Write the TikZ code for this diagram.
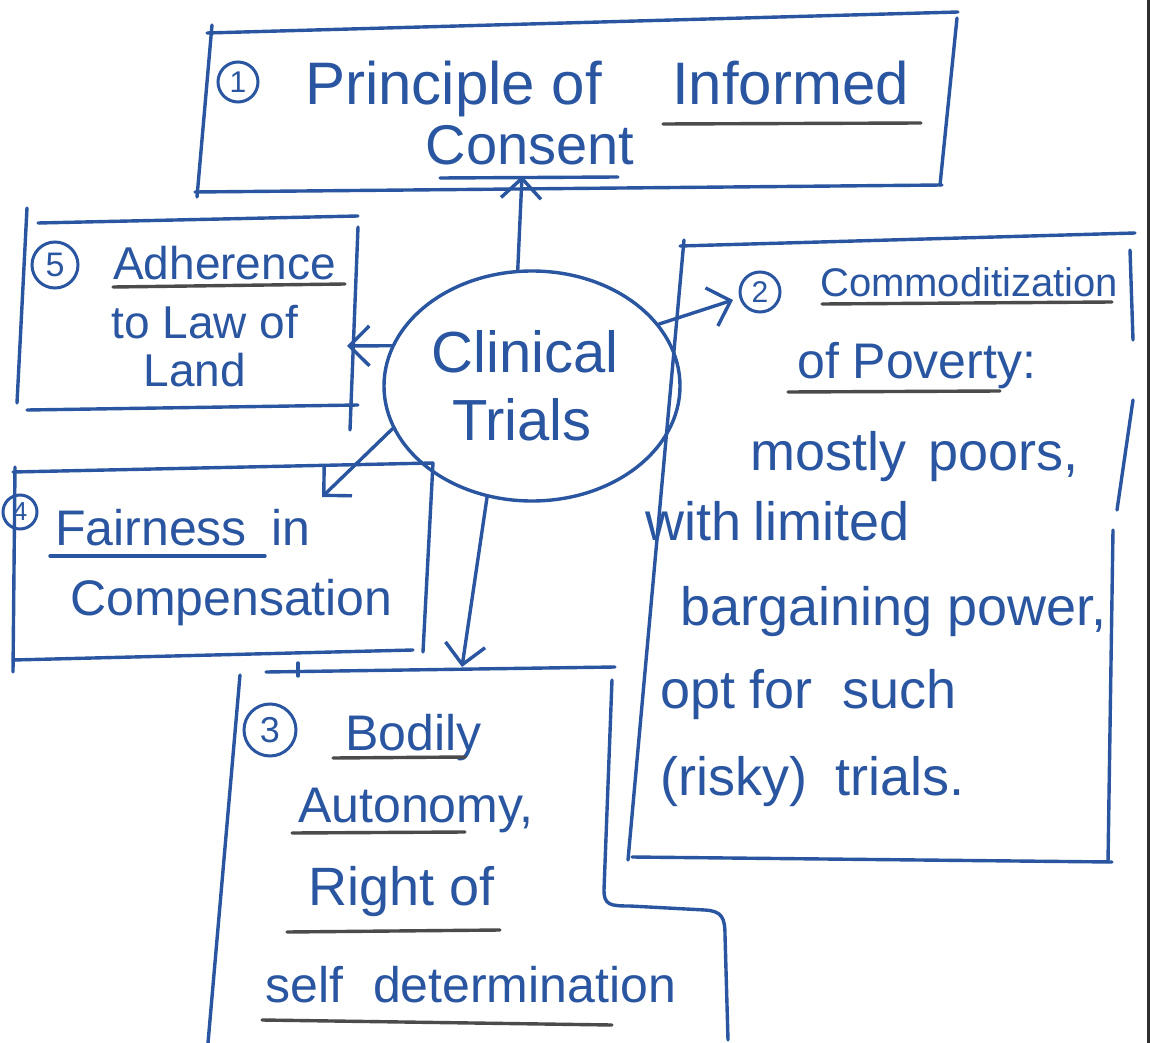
\documentclass[tikz,border=0pt]{standalone}
\usepackage{fontspec}
\setmainfont{Liberation Sans}
\usetikzlibrary{arrows.meta,shapes.geometric}
\definecolor{ink}{HTML}{2A55A0}
\definecolor{pencil}{HTML}{4B4B4B}
\definecolor{pageedge}{HTML}{303030}
\tikzset{
  pen/.style={draw=ink, line width=3.4pt, line cap=round, line join=round},
  uline/.style={draw=pencil, line width=3.4pt, line cap=round},
  bline/.style={draw=ink, line width=3.4pt, line cap=round},
  arr/.style={pen, -{Straight Barb[length=20pt,width=40pt,line width=3.4pt]}},
  txt/.style={text=ink, inner sep=0pt, anchor=base west},
  ctxt/.style={txt, anchor=base},
  num/.style={circle, draw=ink, line width=3pt, inner sep=0pt, text=ink, minimum size=40pt, font=\fontsize{30}{30}\selectfont},
  fa/.style={font=\fontsize{60}{66}\selectfont},
  fb/.style={font=\fontsize{56}{62}\selectfont},
  fc/.style={font=\fontsize{50}{56}\selectfont},
  fd/.style={font=\fontsize{46}{52}\selectfont},
  fe/.style={font=\fontsize{40}{46}\selectfont},
  ff/.style={font=\fontsize{54}{60}\selectfont},
}
\begin{document}
\begin{tikzpicture}[x=1pt,y=-1pt]
\fill[white] (0,0) rectangle (1154,1043);
\useasboundingbox (0,0) rectangle (1154,1043);
% page edge
\draw[pageedge, line width=3pt] (1148,0) -- (1148,1043);

% ---------- Box 1 ----------
\draw[pen] (207,33) -- (958,12);
\draw[pen] (212,25) -- (197,197);
\draw[pen] (957,18) -- (940,185);
\draw[pen] (195,192) -- (942,185);
\node[num] (n1) at (238,82) {1};
\node[txt, fa] (p1a) at (305,105) {Principle of};
\node[txt, fa] (p1b) at (672,105) {Informed};
\node[ctxt, fb] (p1c) at (530,165) {Consent};
\draw[uline] (663,124) -- (921,123);
\draw[bline] (440,178) -- (618,177);

% ---------- Box 5 ----------
\draw[pen] (38,223) -- (358,216);
\draw[pen] (27,208) -- (17,403);
\draw[pen] (358,227) -- (350,430);
\draw[pen] (27,410) -- (358,405);
\node[num, minimum size=46pt, font=\fontsize{34}{34}\selectfont] (n5) at (55,265) {5};
\node[txt, fd] (a5a) at (113,279) {Adherence};
\node[ctxt, fd] (a5b) at (205,338) {to Law of};
\node[ctxt, fd] (a5c) at (195,386) {Land};
\draw[uline] (113,287) -- (345,284);

% ---------- Centre ----------
\node[ellipse, pen, minimum width=296pt, minimum height=230pt, inner sep=0pt] (ct) at (532,386) {};
\node[ctxt, font=\fontsize{58}{64}\selectfont] (ct1) at (525,372) {Clinical};
\node[ctxt, font=\fontsize{58}{64}\selectfont] (ct2) at (522,440) {Trials};

% ---------- Box 2 ----------
\draw[pen] (680,246) -- (1135,233);
\draw[pen] (684,240) -- (628,860);
\draw[pen] (1130,250) -- (1133,340);
\draw[pen] (1133,400) -- (1117,510);
\draw[pen] (1113,530) -- (1108,862);
\draw[pen] (632,857) -- (1112,862);
\node[num] (n2) at (760,292) {2};
\node[txt, fe] (c2a) at (820,296) {Commoditization};
\draw[uline] (822,304) -- (1112,302);
\node[txt, fc] (c2b) at (797,378) {of Poverty:};
\draw[uline] (788,392) -- (1000,391);
\node[txt, ff] (c2c) at (750,470) {mostly\hspace{22pt}poors,};
\node[txt, ff] (c2d) at (645,540) {with\hspace{12pt}limited};
\node[txt, ff] (c2e) at (680,625) {bargaining power,};
\node[txt, ff] (c2f) at (660,708) {opt\hspace{14pt}for\hspace{30pt}such};
\node[txt, ff] (c2g) at (660,795) {(risky)\hspace{28pt}trials.};

% ---------- Box 4 ----------
\draw[pen] (13,472) -- (433,463);
\draw[pen] (15,467) -- (13,672);
\draw[pen] (433,463) -- (423,652);
\draw[pen] (13,660) -- (413,650);
\node[num, minimum size=34pt, font=\fontsize{26}{26}\selectfont] (n4) at (20,512) {4};
\node[txt, fc] (f4a) at (55,545) {Fairness\hspace{25pt}in};
\draw[bline] (50,556) -- (265,556);
\node[txt, fc] (f4b) at (70,615) {Compensation};

% ---------- Box 3 ----------
\draw[pen] (266,672) -- (615,667);
\draw[pen] (298,663) -- (298,676);
\draw[pen] (240,675) -- (208,1043);
\draw[pen] (612,680) -- (604,890) .. controls (604,905) and (610,906) .. (630,906)
  -- (705,910) .. controls (722,911) and (725,918) .. (725,935) -- (728,1040);
\node[num, minimum size=52pt, font=\fontsize{36}{36}\selectfont] (n3) at (270,730) {3};
\node[txt, fc] (b3a) at (345,750) {Bodily};
\draw[uline] (333,758) -- (465,757);
\node[txt, fc] (b3b) at (298,822) {Autonomy,};
\draw[uline] (292,833) -- (465,832);
\node[txt, ff] (b3c) at (308,905) {Right of};
\draw[uline] (287,932) -- (500,930);
\node[txt, fc] (b3d) at (265,1002) {self\hspace{30pt}determination};
\draw[uline] (262,1020) -- (612,1025);

% ---------- Arrows ----------
\coordinate (e1) at (522,176);
\coordinate (e5) at (347,346);
\coordinate (e2) at (733,300);
\coordinate (e4) at (322,497);
\coordinate (e3) at (462,667);
\draw[arr] (ct.97) -- (e1);
\draw[arr] (ct.164) -- (e5);
\draw[arr] (ct.26) -- (e2);
\draw[arr] (ct.197) -- (e4);
\draw[arr] (ct.248) -- (e3);
\end{tikzpicture}
\end{document}
